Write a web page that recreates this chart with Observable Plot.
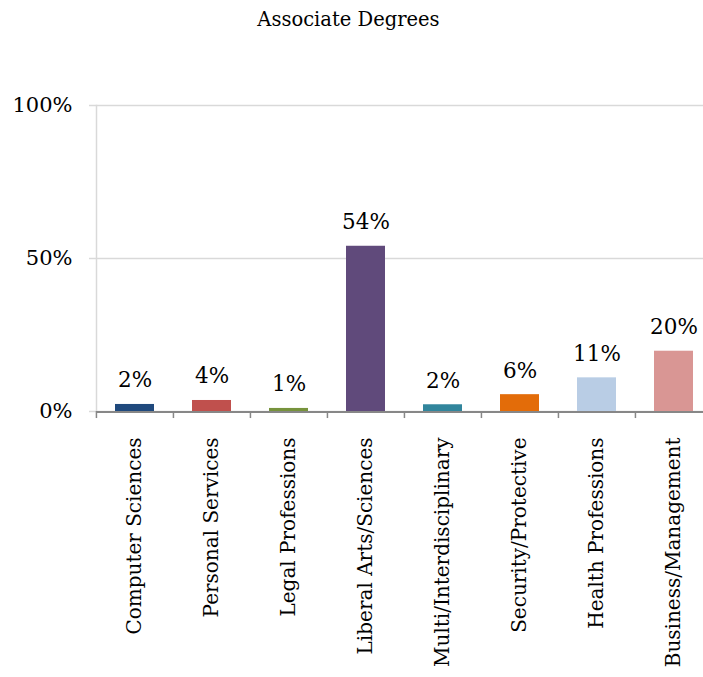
<!DOCTYPE html>
<html>
<head>
<meta charset="utf-8">
<script src="https://cdn.jsdelivr.net/npm/d3@7"></script>
<script src="https://cdn.jsdelivr.net/npm/@observablehq/plot@0.6"></script>
<style>
  body { margin: 0; background: #fff; font-family: "DejaVu Serif", serif; color: #000; }
  #title { width: 703px; height: 40px; box-sizing: border-box; padding-top: 10px;
           font-size: 19.5px; line-height: 19.5px; text-align: center; text-indent: -6px; }
</style>
</head>
<body>
<div id="title">Associate Degrees</div>
<div id="chart"></div>
<script>
const categories = ["Computer Sciences", "Personal Services", "Legal Professions", "Liberal Arts/Sciences",
                    "Multi/Interdisciplinary", "Security/Protective", "Health Professions", "Business/Management"];
const values = [2.3, 3.6, 1.0, 54, 2.2, 5.5, 11, 19.7];
const valueLabels = ["2%", "4%", "1%", "54%", "2%", "6%", "11%", "20%"];
const colors = ["#1f497d", "#c0504d", "#77933c", "#604a7b", "#31859c", "#e36c09", "#b9cde5", "#d99694"];
const yTicks = [0, 50, 100];

const data = categories.map((c, i) => ({cat: c, val: values[i], label: valueLabels[i], color: colors[i]}));
const step = (713 - 96) / categories.length;

const chart = Plot.plot({
  width: 703,
  height: 637,
  marginTop: 65,
  marginBottom: 266,
  marginLeft: 96,
  marginRight: 0,
  style: {fontFamily: "DejaVu Serif", background: "#fff", color: "#000"},
  x: {domain: categories, range: [96, 713], paddingInner: 0.49, paddingOuter: 0.245},
  y: {domain: [0, 100]},
  color: {type: "identity"},
  marks: [
    Plot.gridY(yTicks, {stroke: "#d9d9d9", strokeOpacity: 1, strokeWidth: 1.5}),
    Plot.frame({anchor: "left", stroke: "#d9d9d9", strokeWidth: 1.5}),
    Plot.axisY(yTicks, {tickSize: 7, tickPadding: 17, stroke: "#d9d9d9", strokeWidth: 1.5, strokeOpacity: 1,
                        fontSize: 21, tickFormat: d => d + "%", fill: "#000", label: null}),
    Plot.barY(data, {x: "cat", y: "val", fill: "color"}),
    Plot.ruleY([0], {stroke: "#878787", strokeWidth: 2, dy: 0.5}),
    Plot.ruleX(categories, {x: d => d, y1: 0, y2: -2.3, dx: -step / 2, stroke: "#878787", strokeWidth: 1.5}),
    Plot.text(data, {x: "cat", y: "val", text: "label", dy: -24, lineAnchor: "middle", fontSize: 21.5, fill: "#000"}),
    Plot.axisX({tickSize: 0, tickPadding: 26, tickRotate: -90, fontSize: 20, fill: "#000", label: null})
  ]
});
document.getElementById("chart").appendChild(chart);
</script>
</body>
</html>
